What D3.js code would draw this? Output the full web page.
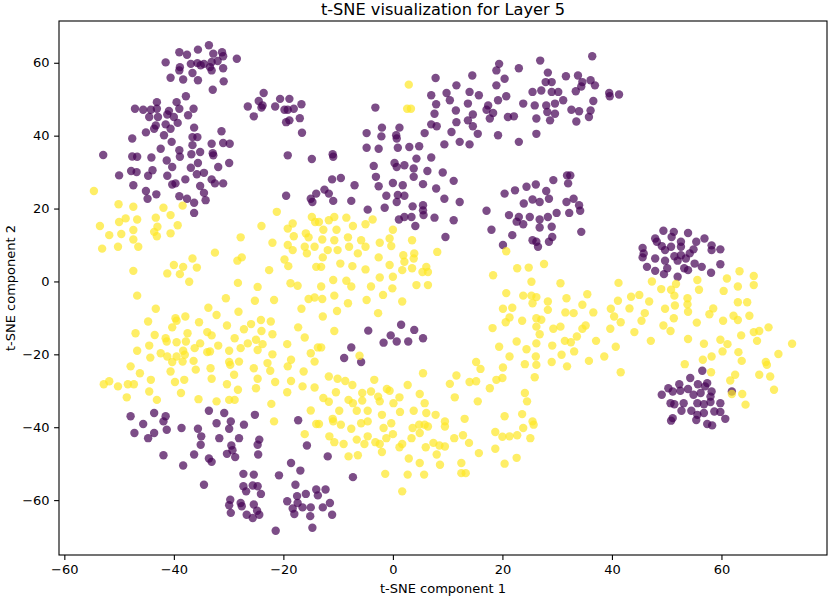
<!DOCTYPE html>
<html>
<head>
<meta charset="utf-8">
<script src="https://cdn.jsdelivr.net/npm/d3@7"></script>
<style>
  body { margin: 0; background: #fff; }
  svg { display: block; font-family: "DejaVu Sans", sans-serif; }
</style>
</head>
<body>
<svg id="chart" width="830" height="599"></svg>
<script>
"use strict";

// t-SNE coordinates, label 0 (purple)
const purpleTopLeft = [
  [-33.6,64.8],[-35.6,63.6],[-39.0,62.9],[-37.6,62.2],[-32.8,62.5],[-31.2,62.9],[-31.0,61.8],[-28.5,61.1],[-41.5,60.1],[-36.9,59.7],
  [-35.7,59.9],[-34.5,59.7],[-33.1,60.2],[-32.0,60.5],[-38.9,58.8],[-35.1,59.3],[-33.4,58.8],[-33.1,57.9],[-31.0,58.5],[-39.0,57.9],
  [-36.6,57.2],[-40.6,55.9],[-38.3,55.4],[-35.6,55.2],[-30.9,54.9],[-32.9,52.6],
  [-37.8,50.8],[-43.1,49.2],[-39.5,49.2],[-47.1,47.4],[-45.6,47.1],[-44.2,47.1],[-43.1,47.4],[-40.9,46.8],[-39.0,47.4],[-36.4,47.4],
  [-44.5,45.1],[-42.9,45.1],[-41.2,45.8],[-40.0,45.1],[-37.4,45.6],[-43.3,42.8],[-41.5,43.1],[-39.3,43.5],[-36.3,42.2],[-45.1,40.9],
  [-43.6,41.9],[-40.6,41.9],[-47.6,39.2],[-41.8,40.1],[-40.4,38.3],[-36.6,39.6],[-35.7,39.6],[-31.3,41.2],[-42.4,36.4],[-39.0,36.0],
  [-36.6,37.4],[-33.1,37.8],[-31.0,38.0],[-29.8,37.8],[-52.9,34.7],[-47.6,34.3],[-46.7,34.2],[-44.1,34.0],[-41.3,33.2],[-38.9,34.2],
  [-36.8,34.9],[-35.2,35.5],[-32.9,35.2],[-32.8,34.6],[-29.9,32.5],[-31.9,31.4],[-35.6,32.5],[-40.3,31.4],[-47.8,30.3],[-46.8,30.0],
  [-36.9,31.2],[-50.0,29.1],[-44.7,29.0],[-43.9,30.5],[-41.2,29.0],[-35.8,29.4],[-34.5,29.8],[-33.1,28.0],[-32.5,26.9],[-31.0,26.9],
  [-37.9,28.0],[-47.4,26.4],[-40.3,26.6],[-39.7,26.9],[-35.2,26.2],[-45.1,24.8],[-43.2,23.9],[-44.8,22.7],[-39.0,23.4],[-37.6,22.7],
  [-34.5,24.3],[-34.2,22.3],[-36.3,21.6],[-36.3,18.8],
  [-23.6,51.7],[-24.5,49.5],[-23.8,48.3],[-24.0,47.7],[-26.5,48.0],[-25.4,45.3],[-20.6,50.1],[-18.9,50.1],[-21.5,48.0],[-19.8,47.1],
  [-19.2,47.1],[-18.1,47.4],[-16.7,48.6],[-17.0,44.8],[-19.5,43.7],[-18.9,44.2],[-16.6,40.8],[-19.2,34.6],[-14.8,33.6],[-19.5,23.5],
  [-15.0,22.7],[-14.0,24.1],[-14.7,21.8]
];

const purpleTopMiddle = [
  [26.9,60.6],[19.4,59.7],[18.9,57.9],[23.0,58.5],[7.8,55.8],[14.5,56.5],[11.6,53.8],[20.4,55.6],[28.3,57.3],[31.6,56.3],
  [27.9,54.7],[29.0,54.7],[18.9,53.8],[27.1,52.4],[25.5,52.0],[29.0,52.0],[30.2,52.0],[9.8,51.7],[7.0,51.1],[14.0,52.0],
  [15.7,51.1],[20.7,50.8],[-3.2,47.7],[7.9,48.6],[10.4,49.7],[13.7,48.8],[17.4,48.3],[19.2,49.7],[23.8,48.8],[25.9,48.3],
  [28.0,48.3],[29.6,48.8],[31.1,49.7],[7.6,46.0],[11.5,46.9],[14.6,45.8],[17.1,47.1],[18.3,46.2],[17.7,44.7],[21.0,45.1],
  [22.1,45.3],[26.2,44.7],[28.2,46.5],[29.6,46.0],[28.7,44.2],[7.0,43.1],[8.0,42.6],[11.6,43.7],[13.7,44.2],[14.6,42.6],
  [15.5,40.5],[5.8,40.7],[1.2,42.2],[-2.0,42.2],[-4.8,40.7],[-2.1,39.8],[0.6,40.1],[0.7,39.2],[10.7,41.0],[19.2,40.1],
  [26.2,40.5],[23.0,38.3],[9.4,37.6],[12.2,38.3],[14.0,37.6],[3.0,36.9],[4.8,37.1],[-4.8,36.7],[-2.6,36.4],[0.9,36.7],
  [-11.0,34.9],[-10.9,34.2],[4.3,33.7],[7.0,34.0],[-3.5,31.7],[0.3,32.5],[0.7,31.4],[2.1,31.9],[3.8,31.0],[6.3,30.3],
  [9.1,29.9],[3.8,28.7],[11.1,27.6],[-3.1,28.7],[-11.1,28.0],[-9.5,28.4],[0.0,27.0],[1.8,26.4],[5.5,26.7],[7.9,25.5],
  [-2.6,26.1],[-7.0,26.4],[-12.5,25.2],[-11.7,24.1],[-10.9,22.1],[-7.6,22.1],[-1.2,23.5],[0.9,23.7],[2.1,23.5],[0.7,21.8],
  [9.4,22.7],[12.2,21.8],[-4.6,19.7],[-1.5,20.2],[3.6,20.6],[5.5,20.9],[5.5,19.5],[5.6,18.2],[1.1,17.0],[2.1,17.7],
  [3.4,17.7],[4.1,15.2],[7.6,17.5],[11.1,16.8],[9.6,12.2],
  [36.4,61.8],[33.8,56.5],[34.6,54.7],[36.1,55.2],[36.9,53.8],[33.4,52.2],[34.4,53.5],[39.5,51.7],[39.6,50.8],[41.3,51.3],
  [36.6,49.5],[32.6,47.1],[34.0,46.7],[36.1,46.9],[35.8,45.1],[33.5,43.9]
];

const purpleRight = [
  [29.3,27.8],[24.4,26.0],[26.1,26.6],[22.3,25.0],[20.4,24.1],[28.0,24.8],[28.5,22.7],[23.9,21.4],[25.5,22.5],[26.8,21.8],
  [29.9,18.8],[31.8,29.1],[32.0,26.9],[31.7,21.8],[17.1,19.4],[21.2,18.2],[23.0,17.7],[25.0,17.7],[26.8,17.0],[28.3,17.7],
  [22.6,16.4],[23.8,15.7],[26.8,14.8],[29.0,15.0],[18.0,14.2],[21.8,12.7],[25.5,11.3],[26.2,10.9],[28.5,10.9],[29.1,12.2],
  [20.1,10.0],[26.5,9.5],[32.4,29.1],[33.0,22.7],[34.0,20.9],[34.2,19.4],[32.2,18.8],[34.4,13.6],
  [49.4,13.9],[51.3,13.6],[53.9,13.3],[47.9,11.8],[50.9,12.2],[52.6,10.9],[56.9,11.8],[55.4,10.9],[45.6,9.2],[45.8,7.7],
  [45.6,6.6],[48.2,10.9],[49.1,9.7],[49.7,8.6],[50.8,9.5],[52.6,9.5],[54.9,8.8],[54.2,7.7],[58.2,9.9],[58.2,8.6],
  [59.8,8.8],[47.9,6.3],[49.7,5.7],[51.4,6.9],[52.6,7.2],[52.0,5.7],[53.5,6.3],[55.1,4.9],[56.4,4.0],[59.8,4.7],
  [46.4,4.0],[47.9,2.9],[50.1,3.6],[53.2,3.6],[53.9,3.1],[58.1,2.4],[49.5,2.0],[52.0,1.3],
  [56.5,-24.5],[54.3,-26.5],[50.3,-29.3],[52.3,-28.2],[52.5,-30.0],[53.9,-29.5],[49.1,-31.1],[51.1,-30.2],[55.7,-28.2],[57.4,-27.9],
  [57.0,-28.8],[58.2,-30.2],[54.9,-31.1],[56.2,-30.6],[58.0,-31.6],[50.7,-33.4],[51.4,-33.7],[53.1,-33.4],[55.6,-33.4],[56.8,-33.7],
  [58.0,-33.1],[59.8,-33.4],[52.7,-35.5],[54.5,-35.5],[55.6,-36.6],[56.8,-36.1],[58.7,-35.7],[59.8,-35.8],[50.8,-38.2],[51.1,-37.5],
  [55.4,-38.0],[57.4,-39.1],[58.3,-39.5],[60.7,-37.7],[61.9,-30.2]
];

const purpleBottom = [
  [-47.9,-37.0],[-45.6,-39.1],[-43.6,-36.1],[-43.6,-41.6],[-41.5,-37.0],[-41.9,-38.4],[-41.3,-40.7],[-47.2,-41.6],[-44.7,-43.0],[-38.6,-40.2],
  [-41.9,-47.7],[-38.3,-50.5],[-35.6,-40.4],[-35.0,-42.5],[-35.1,-44.8],[-36.3,-47.5],[-33.6,-48.6],[-33.1,-49.5],[-33.6,-35.5],[-32.2,-38.9],
  [-30.8,-36.1],[-29.6,-38.4],[-29.9,-40.4],[-27.2,-39.3],[-25.2,-36.6],[-28.1,-43.0],[-31.7,-43.0],[-29.5,-45.0],[-29.3,-46.3],[-30.3,-47.3],
  [-28.8,-48.2],[-24.4,-43.4],[-24.7,-44.8],[-24.6,-47.5],[-17.3,-38.1],[-15.7,-45.0],[-18.6,-49.8],[-16.9,-51.9],[-20.8,-53.2],[-17.8,-55.8],
  [-27.3,-52.8],[-25.4,-53.0],[-27.3,-56.2],[-25.6,-56.0],[-24.7,-56.2],[-26.8,-57.6],[-24.1,-58.3],[-34.5,-55.8],[-29.7,-59.9],[-29.9,-61.4],
  [-27.8,-60.8],[-27.6,-61.7],[-25.4,-61.2],[-24.8,-62.9],[-24.4,-64.0],[-29.6,-63.5],[-26.7,-64.0],[-25.6,-64.9],[-19.3,-60.3],[-17.5,-58.9],
  [-15.9,-58.3],[-17.4,-60.8],[-18.3,-62.3],[-16.5,-62.0],[-15.0,-62.0],[-18.0,-63.8],[-15.1,-64.4],[-21.4,-68.4],[-14.7,-67.6],[-14.0,-57.1],
  [-4.5,-13.5],[1.5,-11.9],[3.9,-13.3],[5.5,-15.6],[-0.4,-14.8],[-1.7,-16.8],[0.7,-16.5],[2.8,-16.5],[-7.6,-18.1],[-8.9,-21.0],
  [-5.8,-22.1],[-11.9,-48.0],[-7.3,-53.7],[-12.3,-57.1],[-11.5,-60.8],[-12.8,-62.0],[-11.1,-64.0],[-13.7,-58.7]
];

// label 1 (yellow)
const yellowLeft = [
  [-54.6,24.8],[-50.1,21.2],[-47.4,20.5],[-41.9,20.2],[-38.4,20.8],[-40.6,18.2],[-43.3,17.5],[-46.7,17.0],[-50.0,16.3],[-48.8,17.3],
  [-53.5,15.2],[-51.8,12.7],[-49.6,13.0],[-47.4,14.1],[-47.4,11.5],[-43.0,15.0],[-43.6,13.6],[-43.1,12.4],[-39.3,15.4],[-40.6,13.2],
  [-53.1,9.0],[-50.2,9.5],[-46.5,9.5],[-47.4,2.9],[-40.0,4.5],[-41.2,2.2],[-38.3,4.0],[-36.6,6.3],[-35.8,3.8],[-38.9,2.0],
  [-37.2,-0.1],[-32.5,7.9],[-27.8,12.1],[-28.4,5.7],[-27.6,6.6],[-28.3,-0.4],[-24.7,-1.5],[-22.6,3.1],[-22.0,10.6],[-24.0,15.2],
  [-21.2,19.1],[-19.2,14.5],[-18.3,15.9],[-18.1,12.4],[-19.2,10.0],[-18.3,8.6],[-19.8,6.0],[-19.1,4.2],[-18.7,-0.5],[-17.4,-1.2],
  [-15.9,13.2],[-15.4,12.1],[-16.1,9.5],[-15.7,7.7],[-14.8,17.7],[-14.2,16.3],[-14.3,9.5],[-14.0,4.0],
  [-46.7,-3.9],[-43.3,-7.5],[-30.5,-4.6],[-25.2,-5.3],[-21.7,-5.1],[-44.7,-11.0],[-39.7,-10.1],[-37.9,-9.6],[-33.7,-7.2],[-32.2,-9.2],
  [-28.2,-8.3],[-35.4,-11.2],[-40.3,-12.6],[-30.3,-12.1],[-25.9,-11.7],[-24.1,-10.6],[-22.3,-11.0],[-47.0,-14.2],[-43.5,-14.7],[-41.5,-15.6],
  [-39.5,-10.8],[-37.5,-14.2],[-33.9,-13.9],[-33.1,-14.8],[-27.2,-13.1],[-24.0,-13.6],[-22.0,-14.5],[-17.3,-12.6],[-16.1,-15.4],[-16.7,-7.5],
  [-15.4,-4.8],[-14.3,-4.4],[-44.5,-17.6],[-41.3,-16.5],[-39.5,-16.7],[-37.8,-16.5],[-35.2,-17.0],[-31.9,-17.6],[-28.9,-15.6],[-26.5,-17.0],
  [-25.0,-16.0],[-23.8,-17.2],[-19.3,-17.2],[-46.7,-19.0],[-42.4,-19.7],[-41.2,-20.6],[-39.5,-20.6],[-38.3,-19.0],[-38.0,-20.1],[-36.2,-18.3],
  [-33.9,-19.4],[-33.4,-19.2],[-29.9,-19.0],[-27.8,-18.3],[-24.7,-18.8],[-22.0,-20.0],[-18.6,-21.5],[-15.0,-19.7],[-14.3,-22.0],[-13.7,-18.1],
  [-47.9,-23.3],[-46.2,-25.2],[-44.3,-20.9],[-40.3,-22.1],[-38.4,-22.0],[-36.4,-21.8],[-36.0,-24.2],[-33.3,-23.8],[-29.9,-22.1],[-29.7,-22.9],
  [-28.1,-22.0],[-29.0,-25.6],[-25.4,-23.8],[-22.9,-22.4],[-22.4,-24.5],[-19.2,-23.3],[-16.3,-24.7],[-52.8,-28.2],[-51.8,-27.4],[-50.2,-28.8],
  [-48.4,-28.2],[-47.3,-28.2],[-44.2,-27.0],[-40.6,-24.7],[-39.8,-27.6],[-38.1,-27.0],[-33.1,-26.7],[-30.3,-28.2],[-28.3,-29.7],[-24.7,-26.7],
  [-25.0,-29.3],[-21.5,-27.6],[-18.6,-27.3],[-16.5,-28.8],[-14.3,-29.1],[-48.6,-31.8],[-44.5,-30.2],[-43.1,-32.5],[-38.7,-30.6],[-35.5,-32.3],
  [-32.2,-32.9],[-29.9,-32.5],[-28.9,-32.5],[-22.2,-33.6],[-19.3,-30.4],[-15.0,-35.4],[-21.7,-38.4],[-16.1,-41.9],[-14.0,-39.1]
];

const yellowMiddle = [
  [2.9,54.0],[2.6,47.4],[3.3,47.4],
  [-13.5,16.3],[-11.7,16.8],[-10.7,17.7],[-8.5,17.5],[-12.7,14.2],[-10.3,14.2],[-7.3,15.2],[-5.0,15.7],[-3.7,17.0],[0.0,14.2],
  [-12.9,11.5],[-10.7,11.3],[-8.2,12.1],[-5.8,11.3],[-2.4,10.6],[-0.6,11.8],[-0.3,9.7],[3.5,11.3],[-11.9,8.6],[-10.1,8.6],
  [-8.0,9.5],[-6.4,7.7],[-5.0,9.5],[-2.6,6.6],[-0.6,4.5],[1.9,7.2],[2.1,5.4],[3.8,6.3],[3.9,7.7],[6.1,4.0],
  [6.4,2.6],[5.4,2.6],[8.1,8.1],[-12.8,6.6],[-9.6,4.9],[-7.4,4.2],[-5.0,3.3],[-2.4,1.1],[0.0,1.3],[1.7,3.1],
  [3.5,3.6],[-10.9,0.4],[-8.5,0.2],[-13.1,4.0],[18.3,1.7],[20.7,8.3],[22.7,3.6],[24.8,3.8],[27.6,4.8],[25.3,-0.1],
  [30.6,-0.5],[-13.1,-1.4],[-7.6,-1.4],[-4.0,-1.4],[-0.1,-1.9],[4.3,-1.0],[6.4,-1.0],
  [-12.9,-4.8],[-10.7,-3.9],[-8.2,-6.0],[-4.8,-5.1],[-1.8,-3.7],[1.7,-5.5],[-12.8,-9.6],[-10.2,-8.1],[-2.7,-8.7],[-10.7,-13.6],
  [-13.1,-18.1],[-6.1,-20.4],[-11.7,-26.1],[-10.1,-26.7],[-8.7,-27.3],[-7.4,-28.4],[-3.4,-27.0],[2.7,-28.4],[5.5,-25.2],[-12.7,-32.0],
  [-11.7,-33.0],[-10.4,-30.4],[-8.1,-32.5],[-7.3,-33.4],[-5.6,-30.6],[-5.6,-32.7],[-4.0,-30.2],[-2.7,-31.6],[-2.4,-32.9],[-1.1,-29.5],
  [-0.6,-30.0],[0.1,-33.4],[1.2,-31.8],[4.9,-30.9],[5.8,-33.4],[-9.8,-35.5],[-11.0,-37.7],[-10.9,-38.4],[-9.5,-39.3],[-13.5,-39.1],
  [-7.6,-40.4],[-6.6,-35.5],[-5.8,-38.9],[-4.6,-35.5],[-4.6,-38.4],[-2.0,-36.6],[-1.7,-40.2],[-0.3,-38.9],[0.0,-41.9],[1.3,-35.8],
  [3.8,-35.5],[6.1,-36.1],[7.8,-36.6],[9.5,-38.4],[9.5,-39.8],[3.6,-40.2],[4.8,-39.3],[5.8,-39.3],[6.4,-39.8],[4.9,-41.6],
  [3.4,-43.0],[-11.6,-42.5],[-10.7,-44.1],[-9.0,-44.6],[-6.6,-43.4],[-5.2,-44.6],[-4.6,-42.5],[-3.2,-44.1],[-2.4,-44.6],[-1.2,-43.0],
  [-2.0,-46.8],[1.2,-45.5],[1.7,-44.6],[6.0,-45.5],[7.4,-44.3],[8.5,-45.0],[9.5,-45.3],[8.0,-47.5],[11.2,-43.0],[12.8,-42.2],
  [13.9,-44.3],[15.7,-47.1],[13.1,-37.7],[-8.1,-48.0],[-6.4,-47.7],[2.9,-48.6],[4.9,-49.8],[8.6,-50.3],[12.5,-49.8],[12.5,-52.6],
  [13.3,-52.6],[-1.4,-52.8],[2.7,-53.0],[5.7,-53.0],[1.7,-57.6]
];

const yellowRight = [
  [20.7,-3.2],[23.8,-3.9],[25.3,-3.9],[26.2,-4.3],[25.5,-6.0],[28.3,-5.5],[28.3,-7.8],[20.1,-7.5],[21.8,-7.2],[21.3,-9.9],
  [20.6,-11.2],[23.6,-10.8],[26.2,-10.1],[27.1,-10.5],[26.2,-12.4],[26.8,-14.5],[29.3,-13.0],[30.6,-12.4],[18.2,-12.8],[31.5,-8.5],
  [31.7,-4.6],[22.6,-16.5],[24.4,-18.6],[26.2,-17.0],[29.1,-17.6],[31.4,-16.3],[19.4,-17.9],[21.3,-20.6],[24.1,-22.7],[26.1,-20.6],
  [26.2,-22.9],[29.0,-22.1],[30.8,-20.1],[31.8,-23.3],[15.2,-22.1],[16.0,-24.0],[11.6,-25.8],[10.4,-28.1],[14.0,-27.6],[15.2,-27.4],
  [17.7,-29.3],[18.9,-27.0],[20.0,-26.5],[20.1,-23.6],[24.1,-30.6],[24.5,-32.9],[25.9,-26.3],[15.5,-32.9],[11.3,-31.8],[20.4,-37.0],
  [23.6,-36.4],[25.5,-38.4],[25.7,-39.3],[23.8,-40.2],[18.7,-41.3],[20.0,-42.6],[21.3,-42.5],[22.7,-42.2],[25.1,-43.0],[18.7,-45.9],
  [20.4,-50.0],[22.6,-48.4],
  [41.2,-0.4],[47.3,0.0],[51.7,-0.7],[55.6,0.4],[61.0,0.8],[63.3,2.8],[65.9,1.5],[49.0,-2.1],[50.8,-2.3],[63.0,-1.4],[65.9,-1.0],
  [35.5,-3.5],[34.6,-6.4],[36.6,-8.5],[33.0,-8.7],[41.1,-5.3],[43.5,-4.2],[45.0,-3.7],[46.8,-5.5],[39.8,-7.5],[40.4,-9.6],
  [41.6,-11.2],[43.2,-7.4],[46.0,-8.7],[45.4,-10.8],[49.7,-7.5],[51.4,-3.9],[51.5,-6.6],[51.3,-10.1],[49.4,-12.1],[50.7,-13.6],
  [53.8,-4.6],[53.8,-6.3],[53.9,-8.3],[55.5,-11.3],[58.5,-7.4],[57.8,-9.0],[60.3,-10.8],[62.2,-9.4],[63.0,-10.6],[65.1,-9.4],
  [63.0,-5.7],[64.7,-5.7],[60.4,-2.6],[55.9,-2.3],[39.7,-13.0],[44.1,-13.9],[47.1,-16.3],[35.2,-12.1],[34.6,-13.0],[33.6,-15.1],
  [32.5,-16.7],[33.1,-19.2],[37.1,-16.3],[40.7,-17.9],[38.6,-20.6],[35.8,-21.8],[41.6,-24.9],[53.9,-15.8],[56.8,-17.1],[59.8,-16.0],
  [61.1,-17.2],[60.2,-19.2],[63.6,-14.8],[65.9,-13.9],[66.9,-13.6],[68.6,-12.6],[66.5,-16.3],[63.1,-19.4],[63.7,-21.8],[58.2,-20.6],
  [56.6,-21.5],[53.3,-22.7],[58.1,-24.9],[62.5,-25.6],[61.6,-27.2],[68.1,-22.1],[68.3,-22.9],[66.9,-25.6],[68.9,-26.1],[70.4,-19.9],
  [72.9,-17.1],[69.6,-29.7],[61.9,-30.9],[63.8,-30.9],[64.4,-33.8]
];

const xTicks = [-60, -40, -20, 0, 20, 40, 60];
const yTicks = [-60, -40, -20, 0, 20, 40, 60];
const chartTitle = "t-SNE visualization for Layer 5";
const xLabel = "t-SNE component 1";
const yLabel = "t-SNE component 2";

const purple = "#440154";
const yellow = "#fde725";

const svg = d3.select("#chart");
const margin = { top: 21, right: 3, bottom: 44, left: 59 };
const w = 830 - margin.left - margin.right;
const h = 599 - margin.top - margin.bottom;

const allPoints = [].concat(purpleTopLeft, purpleTopMiddle, purpleRight, purpleBottom,
  yellowLeft, yellowMiddle, yellowRight);
const xExt = d3.extent(allPoints, d => d[0]);
const yExt = d3.extent(allPoints, d => d[1]);
const xPad = (xExt[1] - xExt[0]) * 0.05;
const yPad = (yExt[1] - yExt[0]) * 0.05;

const x = d3.scaleLinear().domain([xExt[0] - xPad, xExt[1] + xPad]).range([0, w]);
const y = d3.scaleLinear().domain([yExt[0] - yPad, yExt[1] + yPad]).range([h, 0]);

const g = svg.append("g").attr("transform", `translate(${margin.left},${margin.top})`);

const dots = g.append("g");
const series = [
  { pts: [].concat(purpleTopLeft, purpleTopMiddle, purpleRight, purpleBottom), color: purple },
  { pts: [].concat(yellowLeft, yellowMiddle, yellowRight), color: yellow }
];
series.forEach(s => {
  dots.selectAll(null)
    .data(s.pts)
    .enter()
    .append("circle")
    .attr("cx", d => x(d[0]))
    .attr("cy", d => y(d[1]))
    .attr("r", 4.2)
    .attr("fill", s.color)
    .attr("fill-opacity", 0.7);
});

// frame
g.append("rect")
  .attr("width", w)
  .attr("height", h)
  .attr("fill", "none")
  .attr("stroke", "#000")
  .attr("stroke-width", 1.1);

const xAxis = g.append("g")
  .attr("transform", `translate(0,${h})`)
  .call(d3.axisBottom(x).tickValues(xTicks).tickSize(4.9).tickPadding(4.5).tickSizeOuter(0));
const yAxis = g.append("g")
  .call(d3.axisLeft(y).tickValues(yTicks).tickSize(4.9).tickPadding(4.5).tickSizeOuter(0));

[xAxis, yAxis].forEach(a => {
  a.select(".domain").remove();
  a.selectAll(".tick line").attr("stroke", "#000").attr("stroke-width", 1.1);
  a.selectAll(".tick text")
    .attr("fill", "#000")
    .style("font-family", "DejaVu Sans, sans-serif")
    .style("font-size", "13px");
});

svg.append("text")
  .attr("x", margin.left + w / 2)
  .attr("y", 15)
  .attr("text-anchor", "middle")
  .style("font-size", "16.2px")
  .text(chartTitle);

svg.append("text")
  .attr("x", margin.left + w / 2)
  .attr("y", 593)
  .attr("text-anchor", "middle")
  .style("font-size", "13px")
  .text(xLabel);

svg.append("text")
  .attr("transform", `translate(15,${margin.top + h / 2}) rotate(-90)`)
  .attr("text-anchor", "middle")
  .style("font-size", "13px")
  .text(yLabel);
</script>
</body>
</html>
